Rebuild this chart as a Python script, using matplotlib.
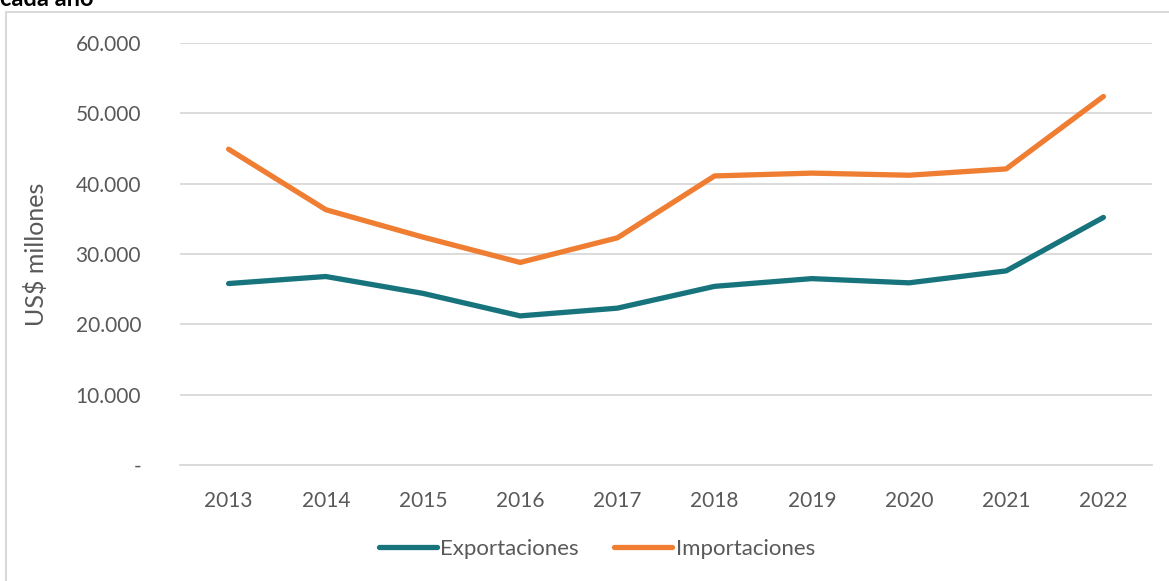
import matplotlib
matplotlib.use("Agg")
import matplotlib.pyplot as plt
from matplotlib.patches import Rectangle
from matplotlib.ticker import FuncFormatter

years = ["2013", "2014", "2015", "2016", "2017", "2018", "2019", "2020", "2021", "2022"]
exportaciones = [25800, 26800, 24400, 21200, 22300, 25400, 26500, 25900, 27600, 35200]
importaciones = [44900, 36300, 32400, 28800, 32300, 41100, 41500, 41200, 42100, 52400]
yticks = [0, 10000, 20000, 30000, 40000, 50000, 60000]

W, H = 1169, 581
fig = plt.figure(figsize=(W / 100, H / 100), dpi=100)
plt.rcParams['font.family'] = ['Lato', 'DejaVu Sans']

# outer chart border (partially visible)
fig.patches.append(Rectangle((6 / W, -0.1), 2.0, (H - 12) / H + 0.1, transform=fig.transFigure,
                             fill=False, edgecolor='#d9d9d9', linewidth=1.5))
fig.text(0.0, 1 - 6 / H, "cada año", fontsize=17, fontweight='bold', va='baseline', ha='left', color='black')

ax = fig.add_axes([180 / W, 1 - 465 / H, (1152 - 180) / W, (465 - 43) / H])
x = list(range(len(years)))
teal = '#17747d'
orange = '#ef7d32'
ax.plot(x, exportaciones, color=teal, linewidth=3.8, solid_capstyle='round', solid_joinstyle='round', label='Exportaciones')
ax.plot(x, importaciones, color=orange, linewidth=3.8, solid_capstyle='round', solid_joinstyle='round', label='Importaciones')

ax.set_xlim(-0.5, len(years) - 0.5)
ax.set_ylim(0, 60000)
ax.set_yticks(yticks)
ax.yaxis.set_major_formatter(FuncFormatter(lambda v, p: '-' if v == 0 else f"{int(v):,}".replace(',', '.')))
ax.set_xticks(x)
ax.set_xticklabels(years)
ax.grid(axis='y', color='#d9d9d9', linewidth=1.3)
ax.set_axisbelow(True)
for s in ax.spines.values():
    s.set_visible(False)
ax.spines['bottom'].set_visible(True)
ax.spines['bottom'].set_color('#d9d9d9')
ax.spines['bottom'].set_linewidth(1.3)
ax.tick_params(axis='both', length=0, labelsize=15, labelcolor='#595959')
ax.tick_params(axis='y', pad=28)
ax.tick_params(axis='x', pad=19)
ax.set_ylabel('US$ millones', fontsize=18, color='#595959', labelpad=20)

leg = fig.legend(loc='center', bbox_to_anchor=(597 / W, 1 - 549 / H), ncol=2, frameon=False,
                 fontsize=16, handlelength=2.6, handletextpad=0.15, columnspacing=1.6)
for t in leg.get_texts():
    t.set_color('#595959')

fig.savefig('out.png', dpi=100)
